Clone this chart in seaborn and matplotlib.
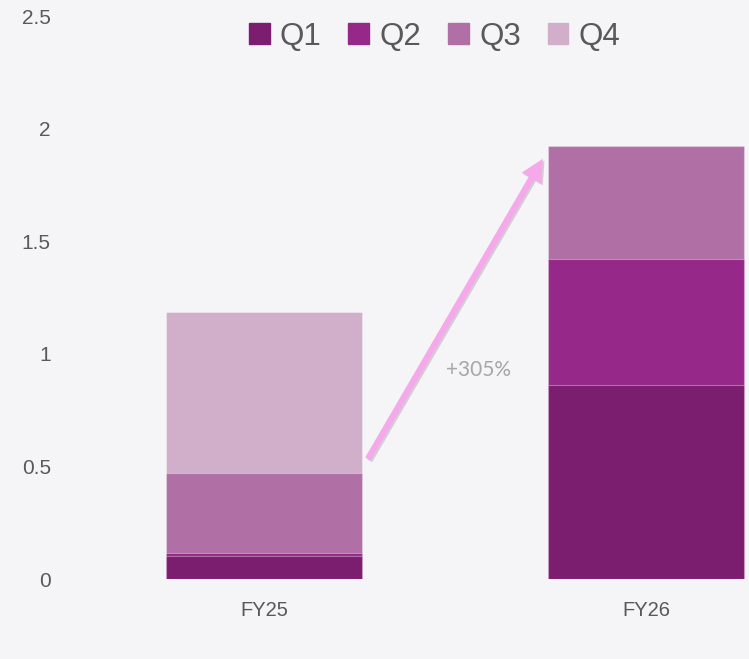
import numpy as np
import pandas as pd
import seaborn as sns
import matplotlib.pyplot as plt
import matplotlib.patches as mpatches
import matplotlib.patheffects as pe

# data
years = ["FY25", "FY26"]
quarters = ["Q1", "Q2", "Q3", "Q4"]
q1 = [0.105, 0.862]
q2 = [0.012, 0.558]
q3 = [0.356, 0.505]
q4 = [0.715, 0.0]
colors = ["#7B1E70", "#952888", "#B070A6", "#D1AEC9"]
growth_label = "+305%"

bg = "#F5F5F7"
sns.set_theme(style="white")
plt.rcParams["font.family"] = ["Liberation Sans", "DejaVu Sans"]

df = pd.DataFrame({"year": years, "Q1": q1, "Q2": q2, "Q3": q3, "Q4": q4})
cum = df[quarters].cumsum(axis=1)
cum["year"] = df["year"]

fig = plt.figure(figsize=(7.49, 6.59), dpi=100, facecolor=bg)
ax = fig.add_axes([0.0975, 0.121, 0.9025, 0.8547])
ax.set_facecolor(bg)

# stacked bars: draw the cumulative totals from the top segment down
for q, c in reversed(list(zip(quarters, colors))):
    sns.barplot(data=cum, x="year", y=q, order=years, color=c, width=0.513,
                saturation=1, edgecolor=(1, 1, 1, 0.35), linewidth=0.8, ax=ax)

ax.set_xlim(-0.5, 1.27)
ax.set_ylim(0, 2.5)
ax.set_yticks(np.arange(0, 2.51, 0.5))
ax.set_yticklabels([f"{v:g}" for v in np.arange(0, 2.51, 0.5)])
ax.set_xlabel("")
ax.set_ylabel("")
ax.tick_params(axis="y", length=0, pad=16, labelsize=15, labelcolor="#595959")
ax.tick_params(axis="x", length=0, pad=16, labelsize=14.5, labelcolor="#595959")
sns.despine(ax=ax, left=True, bottom=True)

# growth arrow
ax.annotate("", xy=(0.73, 1.866), xytext=(0.272, 0.534),
            arrowprops=dict(arrowstyle="simple,head_length=0.62,head_width=0.62,tail_width=0.17",
                            mutation_scale=26, facecolor="#F5A8EA", edgecolor="none",
                            shrinkA=0, shrinkB=0,
                            path_effects=[pe.SimplePatchShadow(offset=(1.2, -1.2), alpha=0.2),
                                          pe.Normal()]))
ax.text(0.561, 0.93, growth_label, ha="center", va="center", fontsize=15,
        color="#A6A6A6", family=["Lato", "DejaVu Sans"])

handles = [mpatches.Patch(color=c, label=q) for q, c in zip(quarters, colors)]
ax.legend(handles=handles, loc="center", bbox_to_anchor=(0.535, 0.963), ncol=4,
          frameon=False, fontsize=22.5, handlelength=0.66, handleheight=0.66,
          handletextpad=0.33, columnspacing=0.86, labelcolor="#595959")

fig.savefig("out.png", dpi=100, facecolor=bg)
